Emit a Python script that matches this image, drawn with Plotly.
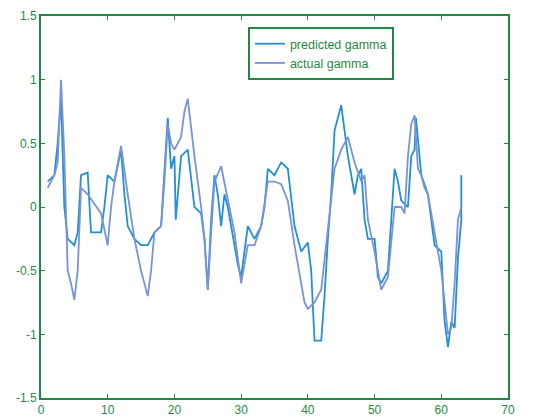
import plotly.graph_objects as go

# actual gamma
x_actual = [1,1.5,2,2.5,3,3.5,4,4.5,5,5.5,
            6,7,8,9,10,10.5,11,11.5,12,13,
            14,15,16,16.5,17,18,18.5,19,19.5,20,
            21,21.5,22,23,24,24.5,25,25.5,26,27,
            28,29,30,30.5,31,32,33,34,35,36,
            37,38,39,39.5,40,41,42,43,44,45,
            46,47,48,48.5,49,50,51,52,52.5,53,
            54,54.5,55,55.5,56,56.5,57,57.5,58,59,
            60,61,61.5,62,62.5,63]
y_actual = [0.15,0.2,0.25,0.35,1.0,0.4,-0.5,-0.6,-0.73,-0.5,
            0.15,0.1,0.02,-0.05,-0.3,0.0,0.2,0.35,0.48,0.1,
            -0.25,-0.5,-0.7,-0.5,-0.2,-0.15,0.2,0.65,0.5,0.45,
            0.55,0.75,0.85,0.4,0.0,-0.25,-0.65,-0.2,0.2,0.32,
            0.05,-0.2,-0.6,-0.45,-0.3,-0.3,-0.15,0.2,0.2,0.18,
            0.05,-0.3,-0.6,-0.75,-0.8,-0.75,-0.65,-0.2,0.3,0.45,
            0.55,0.35,0.2,0.25,-0.1,-0.35,-0.65,-0.55,-0.3,0.0,
            0.0,-0.05,0.4,0.65,0.72,0.3,0.25,0.15,0.1,-0.2,
            -0.5,-1.0,-0.95,-0.6,-0.1,0.0]

# predicted gamma
x_pred = [1,2,2.5,3,3.5,4,5,5.5,6,7,
          7.5,8,9,9.5,10,11,12,12.5,13,14,
          15,16,17,18,18.5,19,19.5,20,20.2,21,
          22,22.5,23,24,24.5,25,25.5,26,26.5,27,
          27.5,28,29,29.5,30,31,32,33,33.5,34,
          35,36,37,38,39,40,40.5,41,42,42.5,
          43,43.5,44,45,45.5,46,47,47.5,48,48.5,
          49,50,50.5,51,52,52.5,53,53.5,54,55,
          55.5,56,56.2,57,58,58.5,59,60,60.5,61,
          61.5,62,62.5,63,63]
y_pred = [0.2,0.25,0.5,0.85,0.0,-0.25,-0.3,-0.2,0.25,0.27,
          -0.2,-0.2,-0.2,0.0,0.25,0.2,0.45,0.1,-0.15,-0.25,
          -0.3,-0.3,-0.2,-0.15,0.3,0.7,0.3,0.4,-0.1,0.4,
          0.45,0.2,0.0,-0.05,-0.25,-0.65,-0.1,0.25,0.1,-0.15,
          0.1,0.0,-0.3,-0.45,-0.55,-0.15,-0.25,-0.15,0.0,0.3,
          0.25,0.35,0.3,-0.15,-0.35,-0.28,-0.5,-1.05,-1.05,-0.7,
          -0.25,0.1,0.6,0.8,0.6,0.4,0.1,0.25,0.3,-0.1,
          -0.25,-0.25,-0.55,-0.6,-0.5,-0.1,0.3,0.2,0.05,0.0,
          0.4,0.45,0.7,0.25,0.1,-0.1,-0.3,-0.35,-0.9,-1.1,
          -0.9,-0.95,-0.4,-0.1,0.25]

x_ticks = [0, 10, 20, 30, 40, 50, 60, 70]
y_ticks = [-1.5, -1, -0.5, 0, 0.5, 1, 1.5]
y_tick_text = ["-1.5", "-1", "-0.5", "0", "0.5", "1", "1.5"]

GREEN = "#1f8a43"

fig = go.Figure()
fig.add_trace(go.Scatter(x=x_pred, y=y_pred, mode="lines", name="predicted gamma",
                         line=dict(color="#2190d4", width=1.8)))
fig.add_trace(go.Scatter(x=x_actual, y=y_actual, mode="lines", name="actual gamma",
                         line=dict(color="#7a92d6", width=1.8)))

axis_common = dict(showgrid=False, zeroline=False, showline=True, linecolor=GREEN,
                   linewidth=2, mirror="ticks", ticks="inside", ticklen=4,
                   tickcolor=GREEN, automargin=False,
                   tickfont=dict(color=GREEN, size=12, family="Liberation Sans"))
fig.update_xaxes(range=[0, 70], tickvals=x_ticks, **axis_common)
fig.update_yaxes(range=[-1.5, 1.5], tickvals=y_ticks, ticktext=y_tick_text,
                 **axis_common)

fig.update_layout(
    width=542, height=418,
    margin=dict(l=41, r=34, t=16, b=20),
    paper_bgcolor="white", plot_bgcolor="white",
    font=dict(family="Liberation Sans", color=GREEN),
    legend=dict(x=0.443, y=0.971, xanchor="left", yanchor="top",
                bgcolor="white", bordercolor=GREEN, borderwidth=2,
                font=dict(size=12.5, color=GREEN), tracegroupgap=0,
                itemwidth=30),
    showlegend=True,
)

fig.write_html("out.html")
